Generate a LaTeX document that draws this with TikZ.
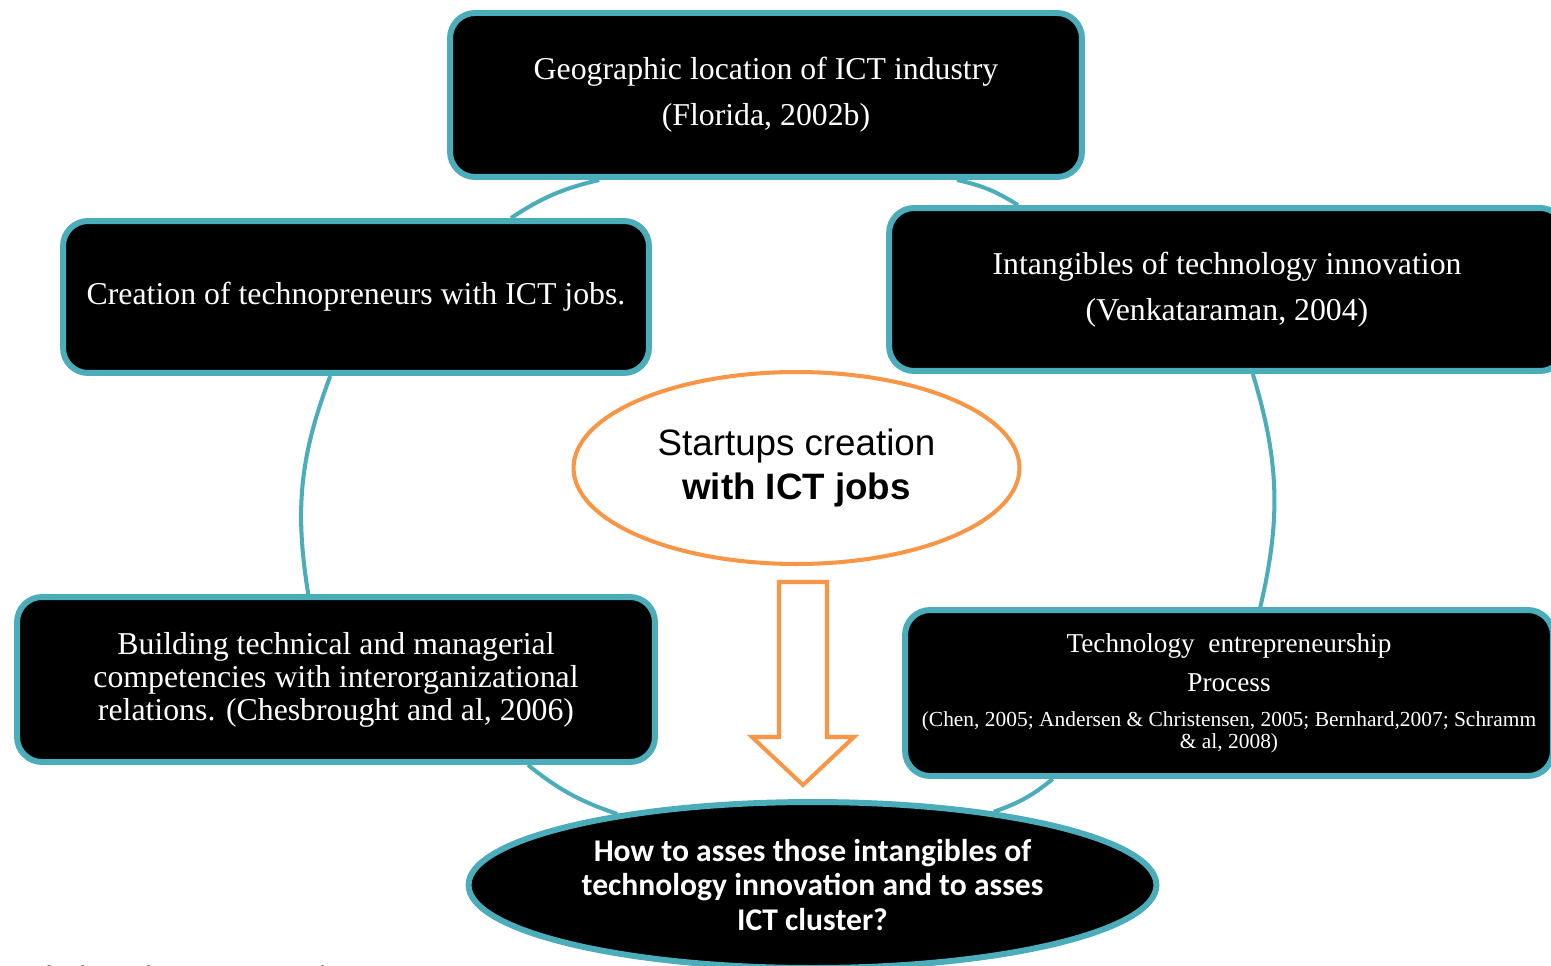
\documentclass[tikz,border=0pt]{standalone}
\usepackage{fontspec}
\setmainfont{Liberation Serif}
\newfontfamily\arialfont{Liberation Sans}
\newfontfamily\calibrifont{Carlito}
\usepackage{tikz}
\usetikzlibrary{calc, shapes.geometric}
\definecolor{cycleteal}{RGB}{75,172,186}
\definecolor{startorange}{RGB}{247,150,70}

\begin{document}
\begin{tikzpicture}[x=0.02cm, y=-0.02cm,
    cyclebox/.style={draw=cycleteal, line width=3.4pt, fill=black, rounded corners=0.5cm,
        text=white, align=center, inner sep=0pt, font=\fontsize{18.1}{26.2}\selectfont},
    cyclearc/.style={draw=cycleteal, line width=2.3pt},
    blockarrow/.style={draw=startorange, line width=2.3pt, fill=white, line join=miter}]

        \path[use as bounding box, fill=white] (0,0) rectangle (1551,966);
        \clip (0,0) rectangle (1551,966);

        \node[cyclebox, minimum width=12.64cm, minimum height=3.28cm] (geo) at (766,95)
            {Geographic location of ICT industry\\(Florida, 2002b)};
        \node[cyclebox, minimum width=11.72cm, minimum height=3.04cm] (tech) at (356,297)
            {Creation of technopreneurs with ICT jobs.};
        \node[cyclebox, minimum width=13.52cm, minimum height=3.26cm] (intan) at (1227,289.5)
            {Intangibles of technology innovation\\(Venkataraman, 2004)};
        \node[cyclebox, minimum width=12.76cm, minimum height=3.3cm,
            font=\fontsize{18.1}{18.8}\selectfont] (build) at (336,679.5)
            {Building technical and managerial\\competencies with interorganizational\\relations. (Chesbrought and al, 2006)};
        \node[cyclebox, minimum width=12.96cm, minimum height=3.32cm,
            font=\fontsize{15.5}{22.2}\selectfont] (proc) at (1229,693)
            {Technology\ \ entrepreneurship\\Process\\[-2.3pt]
             {\fontsize{12.2}{12.5}\selectfont (Chen, 2005; Andersen \& Christensen, 2005; Bernhard,2007; Schramm}\\[-9.7pt]
             {\fontsize{12.2}{12.5}\selectfont \& al, 2008)}};

        \node[ellipse, draw=startorange, line width=2.3pt, fill=white, minimum width=8.92cm,
            minimum height=3.84cm, inner sep=0pt, align=center,
            font=\arialfont\fontsize{20.9}{25.6}\selectfont] (startup) at (796.5,468)
            {Startups creation\\\textbf{with ICT jobs}};
        \node[ellipse, draw=cycleteal, line width=3.4pt, fill=black, minimum width=13.76cm,
            minimum height=3.32cm, inner sep=0pt, text=white, align=center,
            font=\calibrifont\bfseries\fontsize{18}{19.6}\selectfont] (ques) at (812.5,885)
            {How to asses those intangibles of\\technology innovation and to asses\\ICT cluster?};

        \draw[blockarrow] (779,582) -- (827,582) -- (827,737) -- (854,737) -- (803,785)
            -- (752,737) -- (779,737) -- cycle;

        \draw[cyclearc] (geo.207) to[bend right=10] (tech.27);
        \draw[cyclearc] (tech.252) to[bend right=15] (build.108);
        \draw[cyclearc] (build.336) to[bend right=10] (ques.160);
        \draw[cyclearc] (ques.22) to[bend right=10] (proc.206);
        \draw[cyclearc] (proc.70) to[bend right=15] (intan.287);
        \draw[cyclearc] (intan.158) to[bend right=10] (geo.336);

        \node[font=\arialfont\fontsize{13.8}{16}\selectfont, anchor=base west, inner sep=0pt]
            (caption) at (30,983) {of Information Systems and};
    \end{tikzpicture}
\end{document}
